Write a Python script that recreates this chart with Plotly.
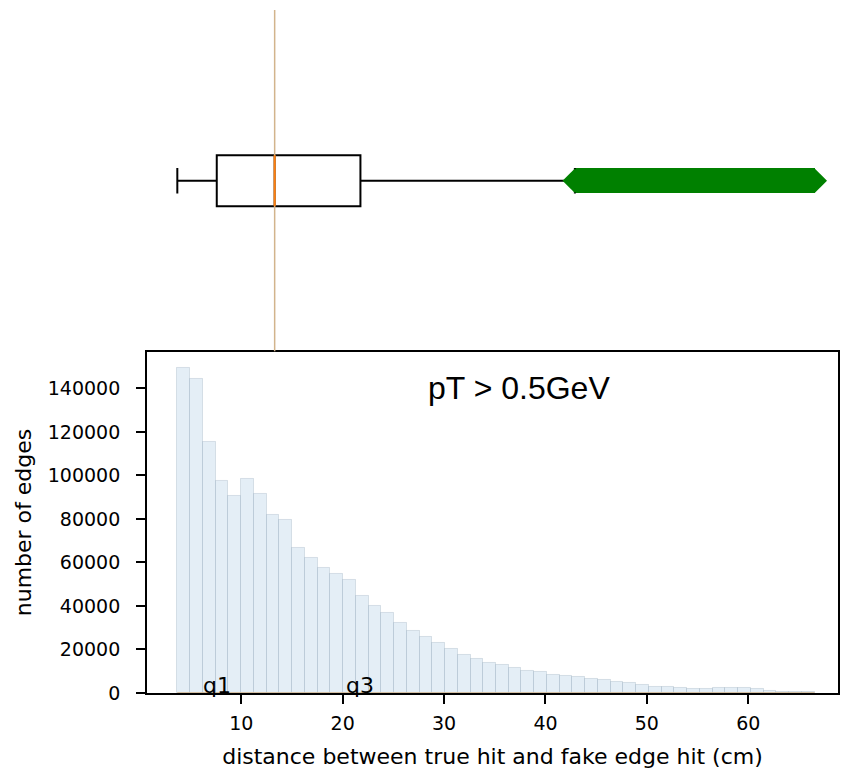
import plotly.graph_objects as go

# ---- data ----
hist_counts = [149200, 144300, 115400, 97400, 90400, 98500, 91300, 81600, 79400, 66700,
               61900, 57500, 54700, 52100, 44400, 40100, 36700, 32100, 28700, 25700,
               23100, 20300, 17700, 15600, 13900, 12800, 11600, 10200, 9600, 8400,
               7900, 7340, 6420, 5970, 5050, 4420, 3670, 2890, 2740, 2430,
               1840, 1840, 2140, 2300, 2300, 1840, 1060, 460, 300, 300]
data_min = 3.69
data_max = 66.55
q1 = 7.58
median = 13.29
q3 = 21.75
whisker_low = 3.69
whisker_high = 42.9
flier_min = 42.9
flier_max = 66.55
y_ticks = [0, 20000, 40000, 60000, 80000, 100000, 120000, 140000]
x_ticks = [10, 20, 30, 40, 50, 60]

n_bins = len(hist_counts)
bin_w = (data_max - data_min) / n_bins
bin_centers = [data_min + (i + 0.5) * bin_w for i in range(n_bins)]

box_w = 0.15
band_h = 0.073

fig = go.Figure()

# histogram
fig.add_trace(go.Bar(x=bin_centers, y=hist_counts, width=bin_w,
                     marker=dict(color="rgba(31,119,180,0.12)",
                                 line=dict(color="rgba(175,190,205,0.45)", width=1)),
                     xaxis="x", yaxis="y", showlegend=False))
# near-zero line
fig.add_trace(go.Scatter(x=[data_min, data_max], y=[0, 0], mode="lines",
                         line=dict(color="tan", width=1.5),
                         xaxis="x", yaxis="y", showlegend=False))

# box panel
fig.add_trace(go.Scatter(x=[median, median], y=[-0.5, 0.5], mode="lines",
                         line=dict(color="tan", width=1.5),
                         xaxis="x2", yaxis="y2", showlegend=False))
fig.add_trace(go.Box(y=[0], q1=[q1], median=[median], q3=[q3],
                     lowerfence=[whisker_low], upperfence=[whisker_high],
                     orientation="h", width=box_w, whiskerwidth=0.5,
                     line=dict(color="black", width=2), fillcolor="white",
                     boxpoints=False, xaxis="x2", yaxis="y2", showlegend=False))
fig.add_trace(go.Scatter(x=[median, median], y=[-box_w / 2, box_w / 2], mode="lines",
                         line=dict(color="#ff7f0e", width=2),
                         xaxis="x2", yaxis="y2", showlegend=False))
fig.add_trace(go.Bar(y=[0], x=[flier_max - flier_min], base=[flier_min], width=band_h,
                     orientation="h", marker=dict(color="green", line=dict(width=0)),
                     xaxis="x2", yaxis="y2", showlegend=False))
fig.add_trace(go.Scatter(x=[flier_min, flier_max], y=[0, 0], mode="markers",
                         marker=dict(symbol="diamond", size=19, color="green"),
                         xaxis="x2", yaxis="y2", showlegend=False))

xr = [0.7, 68.85]
fig.update_layout(
    width=841, height=769,
    margin=dict(l=147, r=1, t=10, b=76),
    paper_bgcolor="white", plot_bgcolor="white",
    font=dict(family="DejaVu Sans", size=19, color="black"),
    barmode="overlay", bargap=0,
    xaxis=dict(domain=[0, 1], range=xr, anchor="y", tickvals=x_ticks,
               ticks="outside", ticklen=9, tickwidth=1.5, tickcolor="black",
               ticklabelstandoff=3,
               showline=True, linecolor="black", linewidth=1.8, mirror=True,
               showgrid=False, zeroline=False,
               title=dict(text="distance between true hit and fake edge hit (cm)",
                          font=dict(size=22), standoff=16)),
    yaxis=dict(domain=[0, 0.4993], range=[0, 156700], anchor="x", tickvals=y_ticks,
               tickformat="d", ticklabelstandoff=12,
               ticks="outside", ticklen=9, tickwidth=1.5, tickcolor="black",
               showline=True, linecolor="black", linewidth=1.8, mirror=True,
               showgrid=False, zeroline=False,
               title=dict(text="number of edges", font=dict(size=22), standoff=10)),
    xaxis2=dict(domain=[0, 1], range=xr, anchor="y2", matches="x", visible=False),
    yaxis2=dict(domain=[0.5, 1], range=[-0.5, 0.5], anchor="x2", visible=False),
    annotations=[
        dict(text="pT > 0.5GeV", x=28.2, y=140000, xref="x", yref="y",
             xanchor="left", yanchor="middle", showarrow=False,
             font=dict(family="Liberation Sans, Arial", size=32, color="black")),
        dict(text="q1", x=q1, y=0, xref="x", yref="y", xanchor="center",
             yanchor="bottom", yshift=-7, showarrow=False,
             font=dict(family="DejaVu Sans", size=22, color="black")),
        dict(text="q3", x=q3, y=0, xref="x", yref="y", xanchor="center",
             yanchor="bottom", yshift=-7, showarrow=False,
             font=dict(family="DejaVu Sans", size=22, color="black")),
    ],
)

fig.write_html("out.html", config={"displayModeBar": False},
               post_script="document.body.style.margin='0';document.body.style.overflow='hidden';")
